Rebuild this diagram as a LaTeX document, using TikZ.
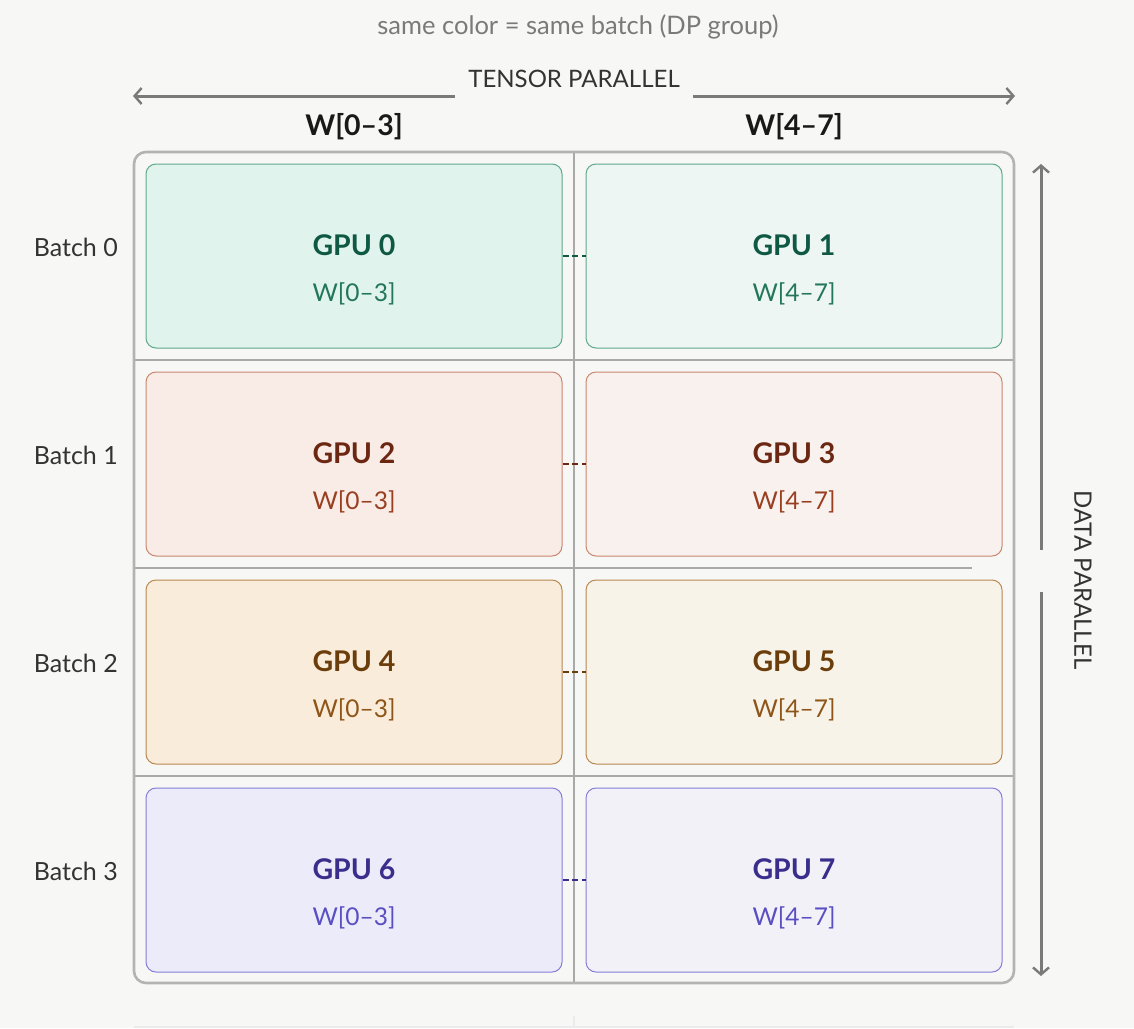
\documentclass[tikz,border=0pt]{standalone}
\usepackage{fontspec}
\setmainfont{Lato}
\usetikzlibrary{arrows.meta}
\definecolor{bg}{HTML}{F7F7F5}
\definecolor{frame}{HTML}{B3B3B1}
\definecolor{divider}{HTML}{A9A9A7}
\definecolor{axis}{HTML}{7A7A78}
\definecolor{gfillL}{HTML}{E0F3EC}\definecolor{gfillR}{HTML}{EDF6F2}\definecolor{gdraw}{HTML}{5EA98C}\definecolor{gdark}{HTML}{0F5944}\definecolor{gmid}{HTML}{23765A}
\definecolor{rfillL}{HTML}{F9EBE6}\definecolor{rfillR}{HTML}{F8F1EE}\definecolor{rdraw}{HTML}{C98670}\definecolor{rdark}{HTML}{6B2711}\definecolor{rmid}{HTML}{983F21}
\definecolor{ofillL}{HTML}{F9ECDA}\definecolor{ofillR}{HTML}{F8F3E8}\definecolor{odraw}{HTML}{B9884F}\definecolor{odark}{HTML}{6B3D0B}\definecolor{omid}{HTML}{8E5519}
\definecolor{pfillL}{HTML}{ECEBFA}\definecolor{pfillR}{HTML}{F2F1F8}\definecolor{pdraw}{HTML}{857DD8}\definecolor{pdark}{HTML}{392E8C}\definecolor{pmid}{HTML}{5A4FC2}
\tikzset{
  gpubox/.style={rectangle, rounded corners=10pt, line width=1pt, minimum width=416pt, minimum height=184pt, inner sep=0pt},
  gputitle/.style={font=\fontsize{28.5}{32}\selectfont\bfseries, inner sep=0pt},
  gpuw/.style={font=\fontsize{24.5}{28}\selectfont, inner sep=0pt},
  batchlbl/.style={font=\fontsize{25}{29}\selectfont, text=black!80, anchor=east, inner sep=0pt},
  colhead/.style={font=\fontsize{28.5}{32}\selectfont\bfseries, text=black!90, inner sep=0pt},
  axisarrow/.style={draw=axis, line width=3pt, -{Straight Barb[length=7pt,width=16pt,line width=2.4pt]}},
  tplink/.style={line width=2.4pt, dash pattern=on 6pt off 3.5pt},
  divline/.style={draw=divider, line width=1.6pt},
  axislbl/.style={font=\fontsize{24}{28}\selectfont, text=black!80, inner sep=0pt},
}
\begin{document}
\begin{tikzpicture}[x=1pt,y=-1pt]
\fill[bg] (0,0) rectangle (1134,1028);
\useasboundingbox (0,0) rectangle (1134,1028);

% title
\node[font=\fontsize{25.5}{29}\selectfont, text=axis, inner sep=0pt] (title) at (578,27) {same color = same batch (DP group)};

% tensor parallel axis
\node[axislbl] (tp) at (574,79) {TENSOR PARALLEL};
\coordinate (tpL) at (133,96); \coordinate (tpLi) at (455,96);
\coordinate (tpR) at (1015,96); \coordinate (tpRi) at (693,96);
\draw[axisarrow] (tpLi) -- (tpL);
\draw[axisarrow] (tpRi) -- (tpR);

% column headers
\node[colhead] (h0) at (354,127) {W[0–3]};
\node[colhead] (h1) at (794,127) {W[4–7]};

% grid dividers
\coordinate (vtop) at (574,152); \coordinate (vbot) at (574,983);
\draw[divline] (vtop) -- (vbot);
\coordinate (d1a) at (134,360); \coordinate (d1b) at (1013,360);
\coordinate (d2a) at (134,568); \coordinate (d2b) at (972,568);
\coordinate (d3a) at (134,776); \coordinate (d3b) at (1013,776);
\draw[divline] (d1a) -- (d1b);
\draw[divline] (d2a) -- (d2b);
\draw[divline] (d3a) -- (d3b);
% faint remnants at bottom edge
\draw[draw=black!8, line width=1.5pt] (134,1027) -- (1014,1027);
\draw[draw=black!8, line width=1.2pt] (574,1016) -- (574,1028);

% outer frame
\node[draw=frame, line width=2.6pt, rounded corners=12pt, minimum width=880pt, minimum height=831pt, inner sep=0pt] (frame) at (574,567.5) {};

% GPU boxes
\foreach \row/\cy/\fl/\fr/\dr/\dk/\md/\a/\b/\bl in {
  0/256/gfillL/gfillR/gdraw/gdark/gmid/0/1/0,
  1/464/rfillL/rfillR/rdraw/rdark/rmid/2/3/1,
  2/672/ofillL/ofillR/odraw/odark/omid/4/5/2,
  3/880/pfillL/pfillR/pdraw/pdark/pmid/6/7/3}{
  \node[gpubox, fill=\fl, draw=\dr] (g\a) at (354,\cy) {};
  \node[gpubox, fill=\fr, draw=\dr] (g\b) at (794,\cy) {};
  \node[gputitle, text=\dk] (t\a) at ([yshift=11pt]g\a.center) {GPU \a};
  \node[gpuw, text=\md] (w\a) at ([yshift=-38pt]g\a.center) {W[0–3]};
  \node[gputitle, text=\dk] (t\b) at ([yshift=11pt]g\b.center) {GPU \b};
  \node[gpuw, text=\md] (w\b) at ([yshift=-38pt]g\b.center) {W[4–7]};
  \draw[tplink, draw=\dk] (g\a.east) -- (g\b.west);
  \node[batchlbl] (b\bl) at (118,\cy-9) {Batch \bl};
}

% data parallel axis
\coordinate (dpT) at (1041,164); \coordinate (dpTi) at (1041,550);
\coordinate (dpB) at (1041,976); \coordinate (dpBi) at (1041,592);
\draw[axisarrow] (dpTi) -- (dpT);
\draw[axisarrow] (dpBi) -- (dpB);
\node[axislbl, rotate=-90] (dp) at (1083,580) {DATA PARALLEL};
\end{tikzpicture}
\end{document}
